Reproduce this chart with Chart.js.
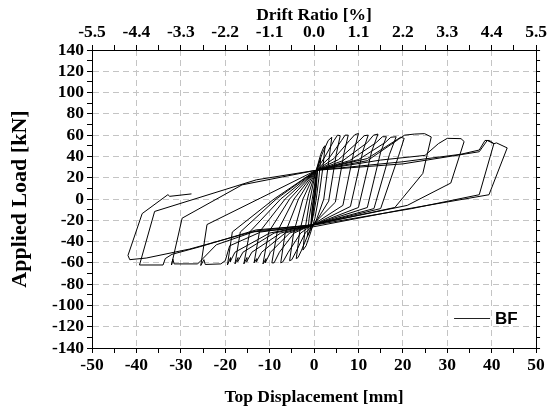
<!DOCTYPE html>
<html>
<head>
<meta charset="utf-8">
<script src="https://cdn.jsdelivr.net/npm/chart.js@4.4.1/dist/chart.umd.min.js"></script>
<style>
  body { margin: 0; background: #fff; }
</style>
</head>
<body>
<canvas id="chart" width="549" height="408"></canvas>
<script>
// tick labels
const dispTicks = [-50, -40, -30, -20, -10, 0, 10, 20, 30, 40, 50];
const loadTicks = [-140, -120, -100, -80, -60, -40, -20, 0, 20, 40, 60, 80, 100, 120, 140];
const driftTicks = [-5.5, -4.4, -3.3, -2.2, -1.1, 0.0, 1.1, 2.2, 3.3, 4.4, 5.5];

// BF specimen, [top displacement mm, applied load kN], one array per cycle
const loop00 = [[0,0],[0.3,12],[0.6,22],[0.3,8],[0,-4],[-0.3,-14],[-0.6,-22],[-0.3,-6],[0.1,8],[0.5,20],[0.8,28],[0.5,10],[0,-6],[-0.4,-18],[-0.8,-28],[-0.4,-8],[0,0]];
const loop01 = [[0.4,18],[1.0,32],[1.5,38],[1.1,20],[0.5,0],[0,-12],[-0.6,-24],[-1.1,-32],[-1.5,-35],[-1.1,-18],[-0.4,0],[0.3,18]];
const loop02 = [[0.5,27],[1.5,42],[2.2,49],[2.5,50],[2.0,30],[1.2,5],[0.2,-18],[-0.8,-32],[-1.8,-44],[-2.5,-48],[-2.0,-28],[-1.0,-2],[0.2,22]];
const loop03 = [[0.5,27],[1.8,42],[3.2,55],[4.0,58],[3.3,35],[2.2,0],[0.5,-20],[-1.2,-32],[-2.8,-48],[-3.6,-55],[-4.0,-56],[-3.2,-30],[-1.2,5]];
const loop04 = [[0.5,27],[2.5,40],[4.5,55],[5.3,60],[5.9,59.5],[5.0,42],[3.3,-2],[0.2,-23],[-2,-32],[-4,-49],[-5,-57],[-5.5,-58],[-4.6,-32],[-2.5,0]];
const loop05 = [[0.5,27],[3.5,39],[6.2,55],[7.0,60],[7.7,60],[6.8,44],[4.8,-3],[0,-23],[-3,-32],[-5.8,-50],[-7,-59],[-7.5,-60],[-6.5,-32],[-3.5,0]];
const loop06 = [[0.5,27],[4.5,38],[8,55],[9.2,60.5],[10,61.5],[9,45],[6.5,-6],[0,-23.5],[-4.5,-32],[-7.8,-50],[-9,-60],[-9.5,-60],[-8.3,-31],[-4.5,0]];
const loop07 = [[0.5,27],[5.5,37],[10,54],[11.3,59.5],[12.2,60],[11,45],[8.2,-7],[0,-24],[-5.5,-32],[-9.8,-50],[-11,-60],[-10.8,-56],[-11.5,-61],[-10.2,-31],[-5.5,0]];
const loop08 = [[0.5,27],[6.5,36],[12,53],[13.4,60],[14.4,61],[13,45],[10,-8],[0,-24],[-6.5,-32],[-11.8,-50],[-13,-59],[-12.9,-56],[-13.5,-60],[-12.3,-31],[-6.5,0]];
const loop09 = [[0.5,27],[8,36],[14,53],[15.4,58.5],[16.3,58.5],[15,44],[12,-8],[0,-24],[-7.5,-32],[-14,-50],[-15.2,-59],[-15.1,-55],[-15.8,-61],[-14.5,-31],[-7.5,0]];
const loop10 = [[0.5,27],[10,37],[16,53],[17.3,58],[18.5,58.5],[17,42],[13.5,-9],[0,-24],[-9,-32],[-16,-50],[-17.2,-59],[-17.1,-55],[-17.8,-61],[-16.6,-31],[-8.5,0]];
const loop11 = [[0.5,27],[12,38],[18,54],[19.5,58],[20.3,57],[19,40],[15,-9],[0,-24],[-10,-32],[-17.8,-50],[-18.9,-59],[-18.8,-55],[-19.5,-62],[-18.4,-31],[-9,0]];
const loop12 = [[0.5,27],[12,36],[19,56],[20.4,60],[22.6,61],[24.9,61.4],[26.4,58.3],[24.5,24],[18.2,-8],[0,-24],[-12,-31],[-19,-44],[-20,-58],[-21,-61],[-24.5,-61.5],[-24.8,-57],[-25.5,-62.5],[-24.1,-24],[-12,1]];
const loop13 = [[0.5,27],[15,36.6],[25,41],[28,52],[30,57],[33.1,56.7],[33.8,54],[30.8,15],[21,-6],[0,-24],[-13,-30],[-22,-43],[-25.5,-58],[-26.2,-61],[-31.5,-61],[-31.8,-56.5],[-32.1,-62],[-29.7,-18],[-16.2,13.3]];
const loop14 = [[0.5,27],[20,35],[33,42],[37.2,46],[38.5,55],[39.5,55],[40.5,52],[37.2,4],[22,-9],[0,-24.5],[-13,-29],[-25.8,-45],[-32,-52],[-33.5,-56],[-34,-62],[-39.3,-62],[-35.9,-11.7],[-13,18]];
const loop15 = [[0.5,27],[20,33],[37.2,44.4],[39,55],[40.5,52],[41.1,52.7],[43.5,48],[39.4,4],[20,-10],[0,-26],[-14,-31],[-28,-47],[-37.8,-55.5],[-41.5,-57],[-41.9,-53],[-38.7,-13.7],[-32.9,4.1],[-32.5,2.5],[-27.6,4.8]];

const loops = [loop00, loop01, loop02, loop03, loop04, loop05, loop06, loop07, loop08, loop09, loop10, loop11, loop12, loop13, loop14, loop15];
const bfPoints = loops.flat().map(([x, y]) => ({ x: x, y: y }));

const tickFont = { family: 'Liberation Serif', weight: 'bold', size: 17.5 };
const titleFont = { family: 'Liberation Serif', weight: 'bold', size: 17.5 };
const yTitleFont = { family: 'Liberation Serif', weight: 'bold', size: 22 };
const gridGrey = '#c4c4c4';

// majors plus a minor tick half way between each pair
function withMinors(list) {
  const out = [];
  list.forEach((v, i) => {
    out.push(v);
    if (i < list.length - 1) out.push((v + list[i + 1]) / 2);
  });
  return out;
}
function isMajor(list, v) {
  return list.some(m => Math.abs(m - v) < 1e-6);
}

const legendPlugin = {
  id: 'bfLegend',
  afterDraw(chart) {
    const { ctx, chartArea } = chart;
    const y = chartArea.bottom - 30;
    ctx.save();
    ctx.strokeStyle = '#222';
    ctx.lineWidth = 1;
    ctx.beginPath();
    ctx.moveTo(chartArea.right - 82, y + 0.5);
    ctx.lineTo(chartArea.right - 46, y + 0.5);
    ctx.stroke();
    ctx.fillStyle = '#000';
    ctx.font = 'bold 17px "Liberation Sans"';
    ctx.textBaseline = 'middle';
    ctx.fillText('BF', chartArea.right - 41, y + 1);
    ctx.restore();
  }
};

new Chart(document.getElementById('chart').getContext('2d'), {
  type: 'scatter',
  data: {
    datasets: [{
      label: 'BF',
      data: bfPoints,
      showLine: true,
      borderColor: '#000',
      borderWidth: 1,
      pointRadius: 0,
      tension: 0
    }]
  },
  options: {
    responsive: false,
    animation: false,
    layout: { padding: 0 },
    plugins: { legend: { display: false }, tooltip: { enabled: false } },
    scales: {
      x: {
        type: 'linear', position: 'bottom', min: -50, max: 50,
        afterFit: s => { s.height = 60; },
        afterBuildTicks: s => { s.ticks = withMinors(dispTicks).map(v => ({ value: v })); },
        ticks: {
          autoSkip: false, maxRotation: 0, color: '#000', font: tickFont, padding: 2,
          callback: v => isMajor(dispTicks, v) ? String(v) : ''
        },
        grid: {
          color: c => isMajor(dispTicks, c.tick.value) ? gridGrey : 'rgba(0,0,0,0)',
          tickColor: '#000', tickLength: 5, tickBorderDash: []
        },
        border: { color: '#000', width: 1, dash: [6, 4] },
        title: { display: true, text: 'Top Displacement [mm]', color: '#000', font: titleFont, padding: { bottom: 0 } }
      },
      x2: {
        type: 'linear', position: 'top', min: -5.5, max: 5.5,
        afterFit: s => { s.height = 50; },
        afterBuildTicks: s => { s.ticks = withMinors(driftTicks).map(v => ({ value: v })); },
        ticks: {
          autoSkip: false, maxRotation: 0, color: '#000', font: tickFont, padding: 2,
          callback: v => isMajor(driftTicks, v) ? v.toFixed(1) : ''
        },
        grid: { drawOnChartArea: false, tickColor: '#000', tickLength: 5 },
        border: { color: '#000', width: 1 },
        title: { display: true, text: 'Drift Ratio [%]', color: '#000', font: titleFont, padding: { top: 5 } }
      },
      y: {
        type: 'linear', position: 'left', min: -140, max: 140,
        afterFit: s => { s.width = 92; },
        afterBuildTicks: s => { s.ticks = withMinors(loadTicks).map(v => ({ value: v })); },
        ticks: {
          autoSkip: false, color: '#000', font: tickFont, padding: 3,
          callback: v => isMajor(loadTicks, v) ? String(v) : ''
        },
        grid: {
          color: c => isMajor(loadTicks, c.tick.value) ? gridGrey : 'rgba(0,0,0,0)',
          tickColor: '#000', tickLength: 5, tickBorderDash: []
        },
        border: { color: '#000', width: 1, dash: [6, 4] },
        title: { display: true, text: 'Applied Load [kN]', color: '#000', font: yTitleFont, padding: { top: 7 } }
      },
      y2: {
        type: 'linear', position: 'right', min: -140, max: 140,
        afterFit: s => { s.width = 10; },
        afterBuildTicks: s => { s.ticks = withMinors(loadTicks).map(v => ({ value: v })); },
        ticks: { display: false },
        grid: { drawOnChartArea: false, tickColor: '#000', tickLength: 4 },
        border: { color: '#000', width: 1 }
      }
    }
  },
  plugins: [legendPlugin]
});
</script>
</body>
</html>
